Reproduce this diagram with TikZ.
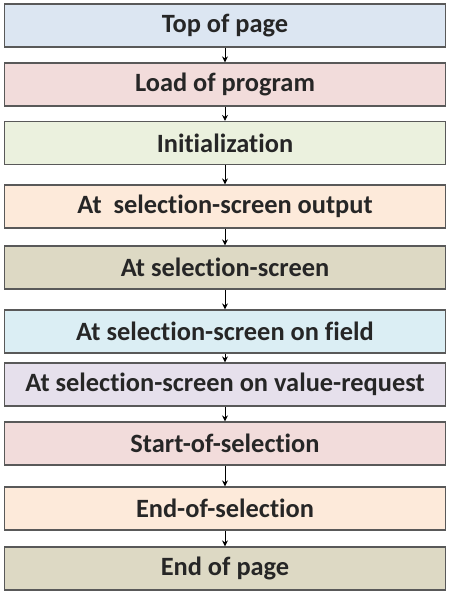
\documentclass[tikz,border=0pt]{standalone}
\usepackage{fontspec}
\setmainfont{Carlito}[Ligatures=NoCommon]
\usepackage{tikz}
\usetikzlibrary{arrows.meta,positioning}
\definecolor{evblue}{HTML}{DCE6F2}
\definecolor{evpink}{HTML}{F2DCDB}
\definecolor{evgreen}{HTML}{EBF1DE}
\definecolor{evpeach}{HTML}{FDEADA}
\definecolor{evtan}{HTML}{DDD9C4}
\definecolor{evaqua}{HTML}{DBEEF4}
\definecolor{evlilac}{HTML}{E6E0EC}
\tikzset{
  evbox/.style={rectangle,draw=black!65,line width=1.2bp,minimum width=441bp,minimum height=43bp,inner sep=0pt,font=\fontsize{26.5}{30}\selectfont\bfseries,text=black!85},
  evflow/.style={-{Stealth[length=6bp,width=6bp]},line width=0.9bp,black},
}

\begin{document}
\begin{tikzpicture}[x=1bp,y=-1bp]
    \useasboundingbox (0,0) rectangle (459,595);
    \node[evbox,fill=evblue]  (top)   at (225,25.5)  {Top of page};
    \node[evbox,fill=evpink]  (load)  at (225,84.5)  {Load of program};
    \node[evbox,fill=evgreen] (init)  at (225,143)   {Initialization};
    \node[evbox,fill=evpeach] (ssout) at (225,206.5) {At\ \ selection-screen output};
    \node[evbox,fill=evtan]   (ss)    at (225,267.5) {At selection-screen};
    \node[evbox,fill=evaqua]  (ssfld) at (225,331.5) {At selection-screen on field};
    \node[evbox,fill=evlilac] (ssval) at (225,384.5) {At selection-screen on value-request};
    \node[evbox,fill=evpink]  (start) at (225,443.5) {Start-of-selection};
    \node[evbox,fill=evpeach] (endsel) at (225,508.5) {End-of-selection};
    \node[evbox,fill=evtan]   (endpg) at (225,568.5) {End of page};
    \draw[evflow] (top) -- (load);
    \draw[evflow] (load) -- (init);
    \draw[evflow] (init) -- (ssout);
    \draw[evflow] (ssout) -- (ss);
    \draw[evflow] (ss) -- (ssfld);
    \draw[evflow] (ssfld) -- (ssval);
    \draw[evflow] (ssval) -- (start);
    \draw[evflow] (start) -- (endsel);
    \draw[evflow] (endsel) -- (endpg);
  \end{tikzpicture}
\end{document}
